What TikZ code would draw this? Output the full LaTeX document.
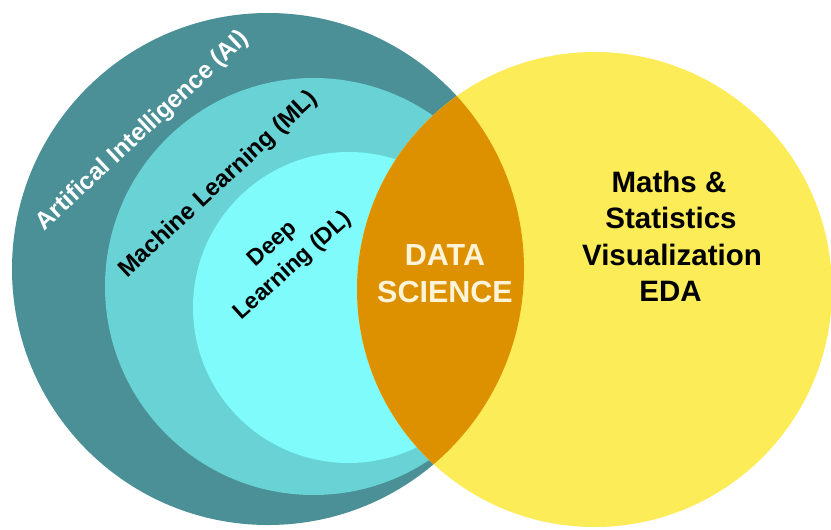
\documentclass[tikz,border=0pt]{standalone}
\usepackage{fontspec}
\setmainfont{Liberation Sans}
\definecolor{aiteal}{HTML}{4A9096}
\definecolor{mlcyan}{HTML}{68D2D5}
\definecolor{dlcyan}{HTML}{7EFBFA}
\definecolor{dsorange}{HTML}{DD9100}
\definecolor{msyellow}{HTML}{FCEC58}
\definecolor{creamtxt}{HTML}{FFF3D8}
\tikzset{
  disc/.style={circle, inner sep=0pt, outer sep=0pt},
  ringlabel/.style={font=\bfseries\fontsize{24.5}{29}\selectfont, inner sep=0pt, rotate=43},
  dslabel/.style={font=\bfseries\fontsize{30.5}{37.7}\selectfont, text=creamtxt, inner sep=0pt, anchor=base},
  mslabel/.style={font=\bfseries\fontsize{29.5}{36}\selectfont, text=black, inner sep=0pt, anchor=base}
}
\begin{document}
\begin{tikzpicture}[x=1pt,y=1pt]
\useasboundingbox (0,0) rectangle (831,-530);
\fill[white] (0,0) rectangle (831,-530);
% circles
\node[disc, fill=aiteal, minimum size=512pt] (ai) at (268,-269) {};
\node[disc, fill=mlcyan, minimum size=417pt] (ml) at (313.5,-286.5) {};
\node[disc, fill=dlcyan, minimum size=311pt] (dl) at (348.5,-307.5) {};
\node[disc, fill=msyellow, minimum size=475pt] (ms) at (594.5,-289.5) {};
\begin{scope}
  \clip (ai.center) circle (256pt);
  \fill[dsorange] (ms.center) circle (237.5pt);
\end{scope}
% ring labels
\node[ringlabel, text=white] (ailabel) at (143,-131) {Artifical Intelligence (AI)};
\node[ringlabel, text=black, font=\bfseries\fontsize{24}{29}\selectfont] (mllabel) at (218.5,-185) {Machine Learning (ML)};
\node[ringlabel, text=black, rotate=-1, align=center, font=\bfseries\fontsize{23}{30}\selectfont] (dllabel) at (283,-255.5) {Deep\\Learning (DL)};
% data science
\node[dslabel] (ds1) at (445,-265) {DATA};
\node[dslabel] (ds2) at (445,-302.7) {SCIENCE};
% maths & statistics
\node[mslabel] (ms1) at (669,-192) {Maths \&};
\node[mslabel] (ms2) at (671,-228.5) {Statistics};
\node[mslabel] (ms3) at (672,-265) {Visualization};
\node[mslabel] (ms4) at (670.5,-301) {EDA};
\end{tikzpicture}
\end{document}
